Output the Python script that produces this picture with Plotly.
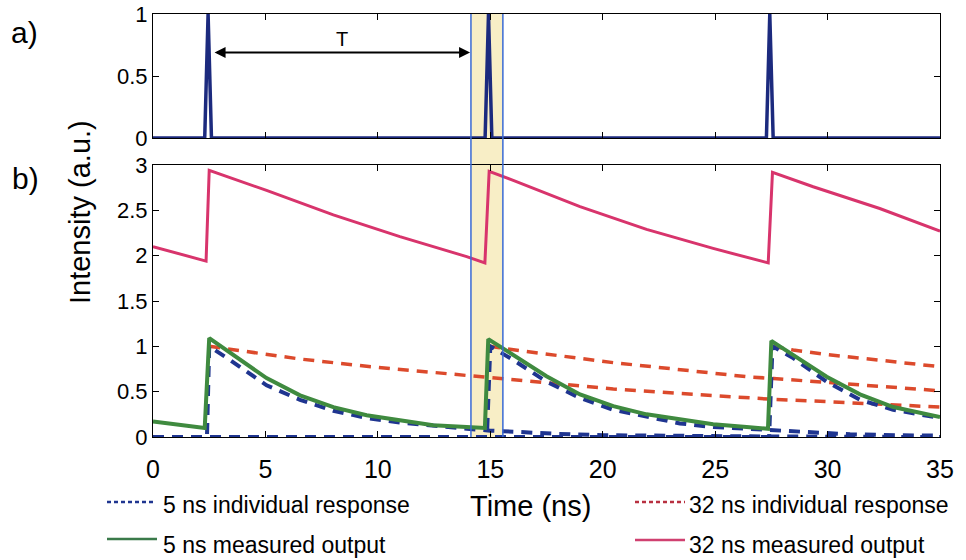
import plotly.graph_objects as go

# ---------------- data ----------------
# a) pump pulse train
pulse_t = [0, 2.30, 2.45, 2.60, 14.77, 14.92, 15.07, 27.28, 27.43, 27.58, 35]
pulse_v = [0, 0, 1, 0, 0, 1, 0, 0, 1, 0, 0]

# b) 32 ns measured output
meas32_t = [0, 2.36, 2.50, 5.05, 8.02, 10.98, 13.95, 14.76, 14.95, 16.02, 18.99, 21.95, 24.91, 27.36, 27.55, 29.36, 32.32, 35]
meas32_v = [2.10, 1.94, 2.94, 2.72, 2.45, 2.21, 1.99, 1.92, 2.93, 2.83, 2.54, 2.29, 2.08, 1.92, 2.92, 2.76, 2.52, 2.27]

# b) 32 ns individual responses (one per pulse)
ind32_1_t = [2.5, 3.42, 6.54, 9.5, 12.46, 14.54, 16.39, 20.47, 23.43, 27.6, 29.96, 32.92, 35]
ind32_1_v = [1.0, 0.97, 0.86, 0.78, 0.71, 0.665, 0.62, 0.53, 0.48, 0.415, 0.39, 0.355, 0.33]
ind32_2_t = [14.95, 16.39, 20.47, 23.43, 26.4, 27.6, 29.96, 32.92, 35]
ind32_2_v = [1.0, 0.95, 0.82, 0.74, 0.665, 0.645, 0.60, 0.55, 0.51]
ind32_3_t = [27.55, 28.47, 29.96, 31.44, 32.92, 35]
ind32_3_v = [1.0, 0.96, 0.91, 0.87, 0.83, 0.775]

# b) 5 ns individual responses (one per pulse)
ind5_1_t = [0, 2.40, 2.50, 3.42, 5.05, 6.54, 8.02, 9.5, 10.98, 12.46, 13.95, 15.0, 16.0, 18.0, 20.0, 23.0, 27.0, 35]
ind5_1_v = [0, 0, 1.0, 0.85, 0.57, 0.41, 0.29, 0.21, 0.16, 0.12, 0.09, 0.07, 0.055, 0.035, 0.02, 0.012, 0.006, 0]
ind5_2_t = [0, 14.85, 15.0, 16.02, 17.5, 18.99, 20.47, 21.95, 23.43, 24.91, 26.4, 27.5, 29.0, 31.0, 33.0, 35]
ind5_2_v = [0, 0, 1.0, 0.85, 0.61, 0.43, 0.30, 0.22, 0.15, 0.11, 0.09, 0.07, 0.05, 0.03, 0.02, 0.015]
ind5_3_t = [0, 27.40, 27.55, 28.47, 29.96, 31.44, 32.92, 35]
ind5_3_v = [0, 0, 1.0, 0.87, 0.61, 0.41, 0.30, 0.21]

# b) 5 ns measured output
meas5_t = [0, 1.0, 2.30, 2.50, 3.57, 5.05, 6.54, 8.02, 9.5, 10.98, 12.46, 13.95, 14.76, 14.91, 16.02, 17.5, 18.99,
           20.47, 21.95, 23.43, 24.91, 26.4, 27.35, 27.50, 28.47, 29.96, 31.44, 32.92, 35]
meas5_v = [0.17, 0.14, 0.10, 1.09, 0.90, 0.65, 0.46, 0.33, 0.24, 0.18, 0.13, 0.11, 0.10, 1.08, 0.90, 0.67, 0.47,
           0.34, 0.25, 0.19, 0.14, 0.11, 0.09, 1.06, 0.90, 0.665, 0.47, 0.33, 0.22]

band_t = [14.14, 15.56]          # highlighted window
period_arrow_t = [2.67, 14.10]   # "T" arrow span

x_ticks = [0, 5, 10, 15, 20, 25, 30, 35]
y_ticks_top = [0, 0.5, 1]
y_ticks_bot = [0, 0.5, 1, 1.5, 2, 2.5, 3]

legend_labels = ["5 ns individual response", "5 ns measured output",
                 "32 ns individual response", "32 ns measured output"]

# ---------------- style ----------------
FONT = "Liberation Sans, Arial, sans-serif"
NAVY = "#1f3590"
GREEN = "#3f8a3f"
RED = "#dc4a2c"
PINK = "#d8346c"
PULSE = "#1c2a7e"
DASH = "11px,8px"

W, H = 966, 560
ML, MR, MT, MB = 153, 26, 14, 123
PW, PH = W - ML - MR, H - MT - MB


def px(xp):
    return (xp - ML) / PW


def py(yp):
    return (H - MB - yp) / PH


fig = go.Figure()

# top panel
fig.add_trace(go.Scatter(x=pulse_t, y=pulse_v, mode="lines", xaxis="x", yaxis="y",
                         line=dict(color=PULSE, width=3.5), showlegend=False))

# bottom panel
fig.add_trace(go.Scatter(x=meas32_t, y=meas32_v, mode="lines", xaxis="x2", yaxis="y2",
                         line=dict(color=PINK, width=3), name=legend_labels[3], showlegend=False))
for tt, vv in [(ind32_1_t, ind32_1_v), (ind32_2_t, ind32_2_v), (ind32_3_t, ind32_3_v)]:
    fig.add_trace(go.Scatter(x=tt, y=vv, mode="lines", xaxis="x2", yaxis="y2",
                             line=dict(color=RED, width=3.5, dash=DASH), name=legend_labels[2],
                             showlegend=False))
for tt, vv in [(ind5_1_t, ind5_1_v), (ind5_2_t, ind5_2_v), (ind5_3_t, ind5_3_v)]:
    fig.add_trace(go.Scatter(x=tt, y=vv, mode="lines", xaxis="x2", yaxis="y2",
                             line=dict(color=NAVY, width=4, dash=DASH), name=legend_labels[0],
                             showlegend=False))
fig.add_trace(go.Scatter(x=meas5_t, y=meas5_v, mode="lines", xaxis="x2", yaxis="y2",
                         line=dict(color=GREEN, width=4), name=legend_labels[1], showlegend=False))

axis_common = dict(showline=True, linecolor="black", linewidth=1, mirror="ticks",
                   ticks="inside", ticklen=6, tickcolor="black", tickwidth=1,
                   showgrid=False, zeroline=False, automargin=False,
                   tickfont=dict(family=FONT, size=22, color="black"))

top_dom = [py(138), 1.0]
bot_dom = [0.0, py(165)]

fig.update_layout(
    width=W, height=H,
    margin=dict(l=ML, r=MR, t=MT, b=MB, autoexpand=False),
    paper_bgcolor="white", plot_bgcolor="rgba(0,0,0,0)",
    showlegend=False,
    xaxis=dict(axis_common, domain=[0, 1], range=[0, 35], tickvals=x_ticks, showticklabels=False,
               anchor="y"),
    yaxis=dict(axis_common, domain=top_dom, range=[0, 1], tickvals=y_ticks_top,
               ticktext=["0", "0.5", "1"], anchor="x"),
    xaxis2=dict(axis_common, domain=[0, 1], range=[0, 35], tickvals=x_ticks,
                ticktext=[str(v) for v in x_ticks], anchor="y2", ticklabelstandoff=10,
                tickfont=dict(family=FONT, size=25, color="black")),
    yaxis2=dict(axis_common, domain=bot_dom, range=[0, 3], tickvals=y_ticks_bot,
                ticktext=["0", "0.5", "1", "1.5", "2", "2.5", "3"], anchor="x2"),
)

shapes = []
# highlighted window spanning both panels
shapes.append(dict(type="rect", xref="x2", yref="paper", x0=band_t[0], x1=band_t[1], y0=0, y1=1,
                   fillcolor="#f8eec6", line=dict(width=0), layer="below"))
for bt in band_t:
    shapes.append(dict(type="line", xref="x2", yref="paper", x0=bt, x1=bt, y0=0, y1=1,
                       line=dict(color="#3a6ad4", width=1.5), layer="above"))

# legend keys (drawn as small line samples)
key_specs = [
    (107, 155, 502, NAVY, "4px,3px", 2.5),
    (107, 157, 539, "#3a7a4a", "solid", 2.5),
    (635, 685, 502, "#b83040", "4px,3px", 2.5),
    (635, 685, 540, "#d04070", "solid", 2.5),
]
for x0, x1, yy, col, dsh, wd in key_specs:
    shapes.append(dict(type="line", xref="paper", yref="paper", x0=px(x0), x1=px(x1),
                       y0=py(yy), y1=py(yy), line=dict(color=col, width=wd, dash=dsh)))
fig.update_layout(shapes=shapes)

ann = []
# "T" period arrow
ann.append(dict(x=period_arrow_t[1], y=0.69, ax=period_arrow_t[0], ay=0.69, xref="x", yref="y",
                axref="x", ayref="y", text="", showarrow=True, arrowhead=2, arrowside="end+start",
                arrowsize=1.1, arrowwidth=2, arrowcolor="black"))
ann.append(dict(x=(period_arrow_t[0] + period_arrow_t[1]) / 2, y=0.80, xref="x", yref="y", text="T",
                xanchor="center", yanchor="middle",
                showarrow=False, font=dict(family=FONT, size=20, color="black")))
# panel labels
ann.append(dict(x=px(24), y=py(33), xref="paper", yref="paper", text="a)", showarrow=False,
                xanchor="center", yanchor="middle",
                font=dict(family=FONT, size=30, color="black")))
ann.append(dict(x=px(25), y=py(178), xref="paper", yref="paper", text="b)", showarrow=False,
                xanchor="center", yanchor="middle",
                font=dict(family=FONT, size=30, color="black")))
# axis titles
ann.append(dict(x=px(80), y=py(212), xref="paper", yref="paper", text="Intensity (a.u.)",
                textangle=-90, showarrow=False, xanchor="center", yanchor="middle",
                font=dict(family=FONT, size=29, color="black")))
ann.append(dict(x=px(530), y=py(506), xref="paper", yref="paper", text="Time (ns)",
                showarrow=False, xanchor="center", yanchor="middle",
                font=dict(family=FONT, size=29, color="black")))
# legend texts
for (xl, yc), lab in zip([(161, 505), (161, 545), (687, 505), (687, 545)], legend_labels):
    ann.append(dict(x=px(xl), y=py(yc), xref="paper", yref="paper", text=lab, xanchor="left",
                    yanchor="middle", showarrow=False, font=dict(family=FONT, size=23, color="black")))
fig.update_layout(annotations=ann)

fig.write_html("out.html")
